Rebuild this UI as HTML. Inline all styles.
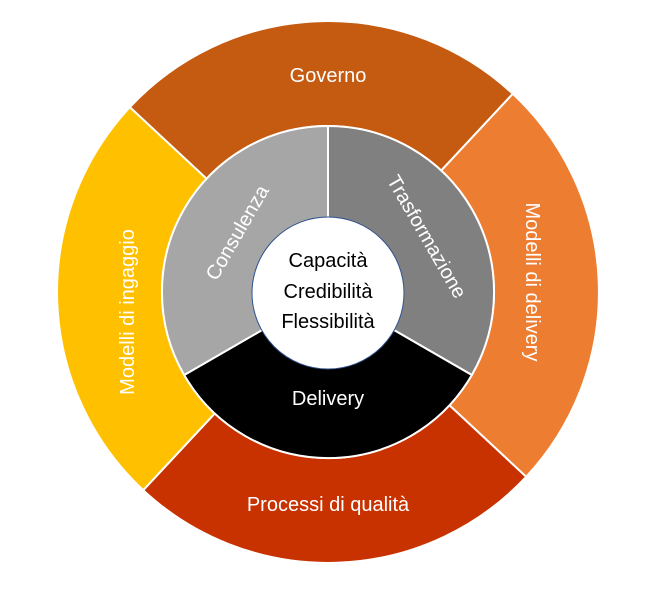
<!DOCTYPE html>
<html><head><meta charset="utf-8"><style>
html,body{margin:0;padding:0;background:#fff;}
svg{display:block;}
text{font-family:"Liberation Sans",sans-serif;}
</style></head><body>
<svg width="653" height="593" viewBox="0 0 653 593" xmlns="http://www.w3.org/2000/svg">
<g stroke="#fff" stroke-width="2" transform="rotate(-2 328 292)">
<path d="M136.4,100.4 A271 271 0 0 1 519.6,100.4 L445.4,174.6 A166 166 0 0 0 210.6,174.6 Z" fill="#C55A11"/>
<path d="M519.6,100.4 A271 271 0 0 1 519.6,483.6 L445.4,409.4 A166 166 0 0 0 445.4,174.6 Z" fill="#ED7D31"/>
<path d="M519.6,483.6 A271 271 0 0 1 136.4,483.6 L210.6,409.4 A166 166 0 0 0 445.4,409.4 Z" fill="#C83200"/>
<path d="M136.4,483.6 A271 271 0 0 1 136.4,100.4 L210.6,174.6 A166 166 0 0 0 210.6,409.4 Z" fill="#FFC000"/>
</g>
<g stroke="#fff" stroke-width="2">
<path d="M328,292 L328,126 A166 166 0 0 1 471.8,375 Z" fill="#808080"/>
<path d="M328,292 L471.8,375 A166 166 0 0 1 184.2,375 Z" fill="#000"/>
<path d="M328,292 L184.2,375 A166 166 0 0 1 328,126 Z" fill="#A6A6A6"/>
</g>
<circle cx="328" cy="293" r="76" fill="#fff" stroke="#2F528F" stroke-width="1"/>
<g fill="#fff" font-size="20" text-anchor="middle">
<text x="328" y="82">Governo</text>
<text x="328" y="511">Processi di qualità</text>
<text x="328" y="405">Delivery</text>
<text transform="translate(134,312) rotate(-90)">Modelli di ingaggio</text>
<text transform="translate(526,282) rotate(90)">Modelli di delivery</text>
<text transform="translate(243,236) rotate(-60)">Consulenza</text>
<text transform="translate(421,240) rotate(60)">Trasformazione</text>
</g>
<g fill="#000" font-size="20" text-anchor="middle">
<text x="328" y="267">Capacità</text>
<text x="328" y="298">Credibilità</text>
<text x="328" y="328">Flessibilità</text>
</g>
</svg>
</body></html>
